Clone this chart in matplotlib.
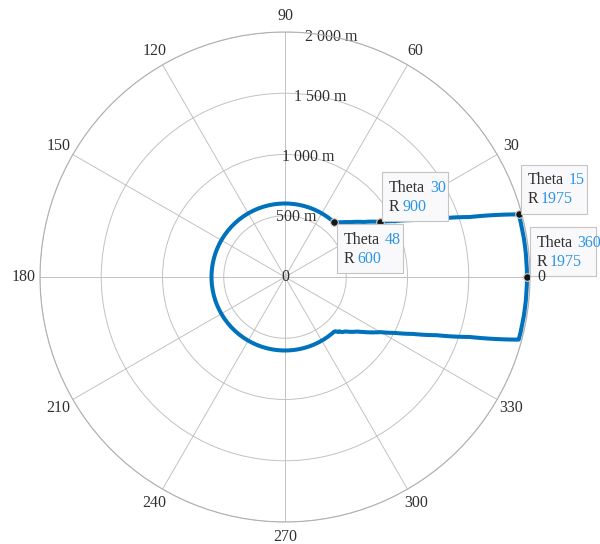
import numpy as np
import matplotlib
matplotlib.use("Agg")
import matplotlib.pyplot as plt
from matplotlib.patches import Rectangle
from matplotlib.transforms import ScaledTranslation

# ---- data (degrees, metres) ----
theta_deg = [0, 15, 18, 21, 24, 27, 30, 35, 40, 44, 48,
             312, 313, 314, 315, 316, 318, 320, 323, 325, 330,
             333, 336, 339, 342, 345, 360]
r_m = [1975, 1975, 1584, 1325, 1142, 1005, 900, 783, 697, 643, 600,
       600, 606, 624, 627, 648, 664, 697, 740, 783, 900,
       1005, 1142, 1325, 1584, 1975, 1975]

tip_theta = [48, 30, 15, 360]
tip_r = [600, 900, 1975, 1975]

r_ticks = [0, 500, 1000, 1500, 2000]
r_tick_labels = ["0", "500 m", "1 000 m", "1 500 m", "2 000 m"]
theta_ticks = list(range(0, 360, 30))
theta_tick_labels = [str(t) for t in theta_ticks]

plt.rcParams['font.family'] = ['Liberation Serif', 'DejaVu Serif']

W, H, DPI = 600, 544, 100
fig = plt.figure(figsize=(W / DPI, H / DPI), dpi=DPI)
ax = fig.add_axes([40 / W, 22 / H, 490 / W, 490 / H], projection='polar')

line_color = '#0072BD'
grid_color = '#c2c2c2'
text_gray = '#303030'
val_blue = '#2b95e8'
FS = 11.5

line, = ax.plot(np.deg2rad(theta_deg), r_m, color=line_color, lw=2.9,
                solid_joinstyle='round', zorder=3)
line.get_path()._interpolation_steps = 90

ax.set_rlim(0, 2000)
ax.set_rticks(r_ticks)
ax.set_yticklabels([])
ax.set_thetagrids(theta_ticks, [""] * len(theta_ticks))
ax.grid(True, color=grid_color, lw=0.7)
ax.spines['polar'].set_color('#b0b0b0')
ax.spines['polar'].set_linewidth(0.8)

# radial labels
for rv, lab in zip(r_ticks, r_tick_labels):
    ax.text(np.deg2rad(79), rv, lab, ha='center', va='center', fontsize=FS,
            color=text_gray, zorder=2)

# angle labels (figure level, drawn above the data tip boxes)
for tv, lab in zip(theta_ticks, theta_tick_labels):
    a = np.deg2rad(tv)
    d = 11 if tv == 0 else (15 if tv == 270 else 16.5)
    off = ScaledTranslation(d * np.cos(a) / DPI, d * np.sin(a) / DPI, fig.dpi_scale_trans)
    fig.text(a, 2000, lab, ha='center', va='center', fontsize=FS, color=text_gray,
             transform=ax.transData + off, zorder=9)

# data tips
ax.plot(np.deg2rad(tip_theta), tip_r, 'o', color='#151515', mec='#d0d0d0', mew=0.8,
        ms=5.5, zorder=5)

fig.canvas.draw()
renderer = fig.canvas.get_renderer()

# (dx, dy_top) box offsets in pixels relative to the point (image y down)
box_off = [(3, 2), (2, -49.5), (2, -49.5), (3, -50)]
BW, BH = 66, 49
for (t, r), (ox, oy) in zip(zip(tip_theta, tip_r), box_off):
    px, py = ax.transData.transform((np.deg2rad(t), r))
    left = px + ox
    top = py - oy  # display coords: y up
    rect = Rectangle((left, top - BH), BW, BH, transform=None, facecolor='#f9f9fb',
                     edgecolor='#c4c4c4', lw=0.8, zorder=6, clip_on=False)
    fig.add_artist(rect)
    rows = [("Theta", str(t), top - 15.5), ("R", str(r), top - 34.5)]
    for key, val, yc in rows:
        k = fig.text(left + 6.5, yc, key, transform=None, ha='left', va='center',
                     fontsize=FS, color=text_gray, zorder=7)
        bb = k.get_window_extent(renderer)
        gap = 5 if key == "Theta" else 3
        fig.text(bb.x1 + gap, yc, val, transform=None, ha='left', va='center',
                 fontsize=FS, color=val_blue, zorder=7)

fig.savefig('out.png', dpi=DPI)
